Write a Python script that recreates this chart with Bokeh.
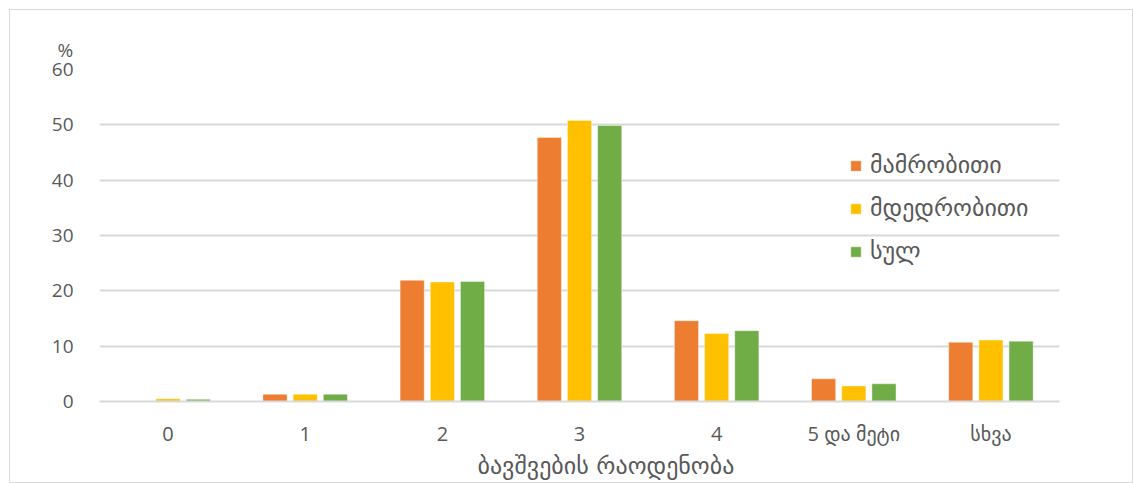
from bokeh.plotting import figure
from bokeh.models import ColumnDataSource, Legend, LegendItem, FactorRange, SingleIntervalTicker, Title
from bokeh.transform import dodge
from bokeh.embed import file_html
from bokeh.resources import INLINE

categories = ["0", "1", "2", "3", "4", "5 და მეტი", "სხვა"]
male = [0.0, 1.3, 21.9, 47.7, 14.6, 4.1, 10.7]
female = [0.5, 1.3, 21.6, 50.8, 12.3, 2.8, 11.1]
total = [0.4, 1.3, 21.7, 49.9, 12.8, 3.2, 10.9]
series_names = ["მამრობითი", "მდედრობითი", "სულ"]
colors = ["#ED7D31", "#FFC000", "#70AD47"]
x_title = "ბავშვების რაოდენობა"
y_unit = "%"

FONT = "'Open Sans', 'DejaVu Sans'"
GEO_FONT = "'DejaVu Sans'"
TXT = "#595959"
GRID = "#D9D9D9"

src = ColumnDataSource(dict(cat=categories, male=male, female=female, total=total))

p = figure(x_range=FactorRange(*categories), y_range=(0, 60), width=1124, height=474,
           output_backend="svg", toolbar_location=None,
           min_border_left=89, min_border_right=75, min_border_top=59, min_border_bottom=83)
p.margin = (9, 0, 0, 9)
p.styles = {"border": "1px solid #D9D9D9", "box-sizing": "border-box"}
p.outline_line_color = None
p.background_fill_color = "white"

p.title.text = y_unit
p.title.align = "left"
p.title.offset = -42
p.title.standoff = 10
p.title.vertical_align = "top"
p.title.text_font = FONT
p.title.text_font_size = "19px"
p.title.text_font_style = "normal"
p.title.text_color = TXT

renderers = []
for key, off, c in zip(["male", "female", "total"], [-0.22, 0.0, 0.22], colors):
    r = p.vbar(x=dodge("cat", off, range=p.x_range), top=key, width=0.176, source=src,
               fill_color=c, line_color="white", line_alpha=0.4, line_width=1)
    renderers.append(r)

p.yaxis.ticker = SingleIntervalTicker(interval=10)
p.yaxis.axis_line_color = None
p.yaxis.major_tick_line_color = None
p.yaxis.minor_tick_line_color = None
p.yaxis.major_label_text_font = FONT
p.yaxis.major_label_text_font_size = "19px"
p.yaxis.major_label_text_color = TXT
p.yaxis.major_label_standoff = 20

p.xaxis.axis_line_color = GRID
p.xaxis.axis_line_width = 2
p.xaxis.major_tick_line_color = None
p.xaxis.minor_tick_line_color = None
p.xaxis.major_label_text_font = FONT
p.xaxis.major_label_text_font_size = "20px"
p.xaxis.major_label_text_color = TXT
p.xaxis.major_label_standoff = 12

p.add_layout(Title(text=x_title, align="left", offset=378, standoff=0,
                   text_font=GEO_FONT, text_font_size="24px", text_font_style="normal",
                   text_color=TXT), "below")

p.xgrid.grid_line_color = None
p.ygrid.grid_line_color = GRID
p.ygrid.grid_line_width = 2

legend = Legend(items=[LegendItem(label=n, renderers=[r]) for n, r in zip(series_names, renderers)],
                location=(750, 136), orientation="vertical",
                background_fill_alpha=0, border_line_color=None,
                label_text_font=GEO_FONT, label_text_font_size="24px", label_text_color=TXT,
                glyph_width=13, glyph_height=13, label_standoff=8, spacing=15,
                padding=0, margin=0)
p.add_layout(legend)

open("out.html", "w").write(file_html(p, INLINE))
